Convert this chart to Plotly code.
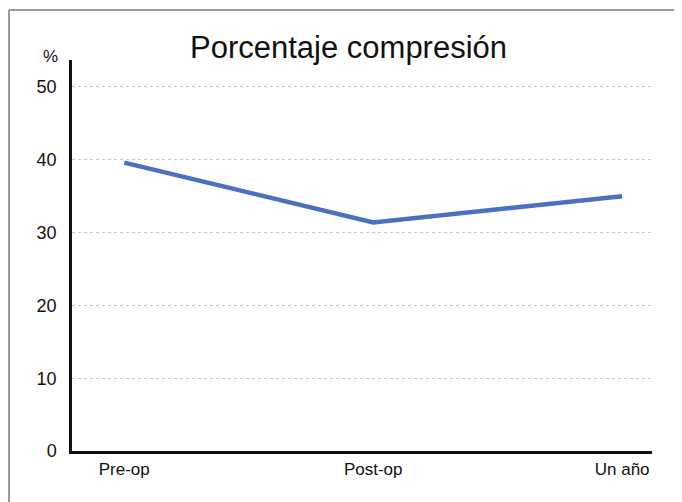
import plotly.graph_objects as go

categories = ["Pre-op", "Post-op", "Un año"]
values = [39.6, 31.4, 35.0]
y_ticks = [0, 10, 20, 30, 40, 50]

# page has an 8px body margin; figure coordinates are page coords - 8
OFF = 8
W, H = 682 - OFF, 502 - OFF
L, R, T, B = 72 - OFF, 30, 60 - OFF, 51

fig = go.Figure()
fig.add_trace(go.Scatter(
    x=categories, y=values, mode="lines",
    line=dict(color="#4a70c2", width=4.5),
    showlegend=False, hoverinfo="skip",
))

pw = W - L - R
ph = H - T - B

def px_x(p):
    return (p - OFF - L) / pw

def px_y(p):
    return (H - B - (p - OFF)) / ph

fig.update_layout(
    width=W, height=H,
    margin=dict(l=L, r=R, t=T, b=B, pad=0),
    paper_bgcolor="white", plot_bgcolor="white",
    font=dict(family="Liberation Sans, Arial, sans-serif", color="#111111"),
    xaxis=dict(
        type="category", range=[-0.21, 2.12],
        showgrid=False, zeroline=False,
        showline=True, linecolor="#111111", linewidth=2.5,
        ticks="", tickfont=dict(size=17), ticklabelstandoff=1,
    ),
    yaxis=dict(
        range=[0, 53.7], tickvals=y_ticks,
        showgrid=True, gridcolor="#d2c4bd", griddash="dot", gridwidth=1,
        zeroline=False,
        showline=True, linecolor="#111111", linewidth=2.5,
        ticks="", tickfont=dict(size=18), ticklabelstandoff=9,
    ),
    annotations=[
        dict(text="Porcentaje compresión", xref="paper", yref="paper",
             x=px_x(348), y=px_y(48), showarrow=False,
             xanchor="center", yanchor="middle",
             font=dict(size=31, color="#111111")),
        dict(text="%", xref="paper", yref="paper",
             x=px_x(50), y=px_y(56), showarrow=False,
             xanchor="center", yanchor="middle",
             font=dict(size=17, color="#111111")),
    ],
    shapes=[
        dict(type="line", xref="paper", yref="paper",
             x0=px_x(9), x1=px_x(690), y0=px_y(10), y1=px_y(10),
             line=dict(color="#9a9a9a", width=2)),
        dict(type="line", xref="paper", yref="paper",
             x0=px_x(9), x1=px_x(9), y0=px_y(10), y1=px_y(510),
             line=dict(color="#9a9a9a", width=2)),
    ],
)

fig.write_html("out.html")
